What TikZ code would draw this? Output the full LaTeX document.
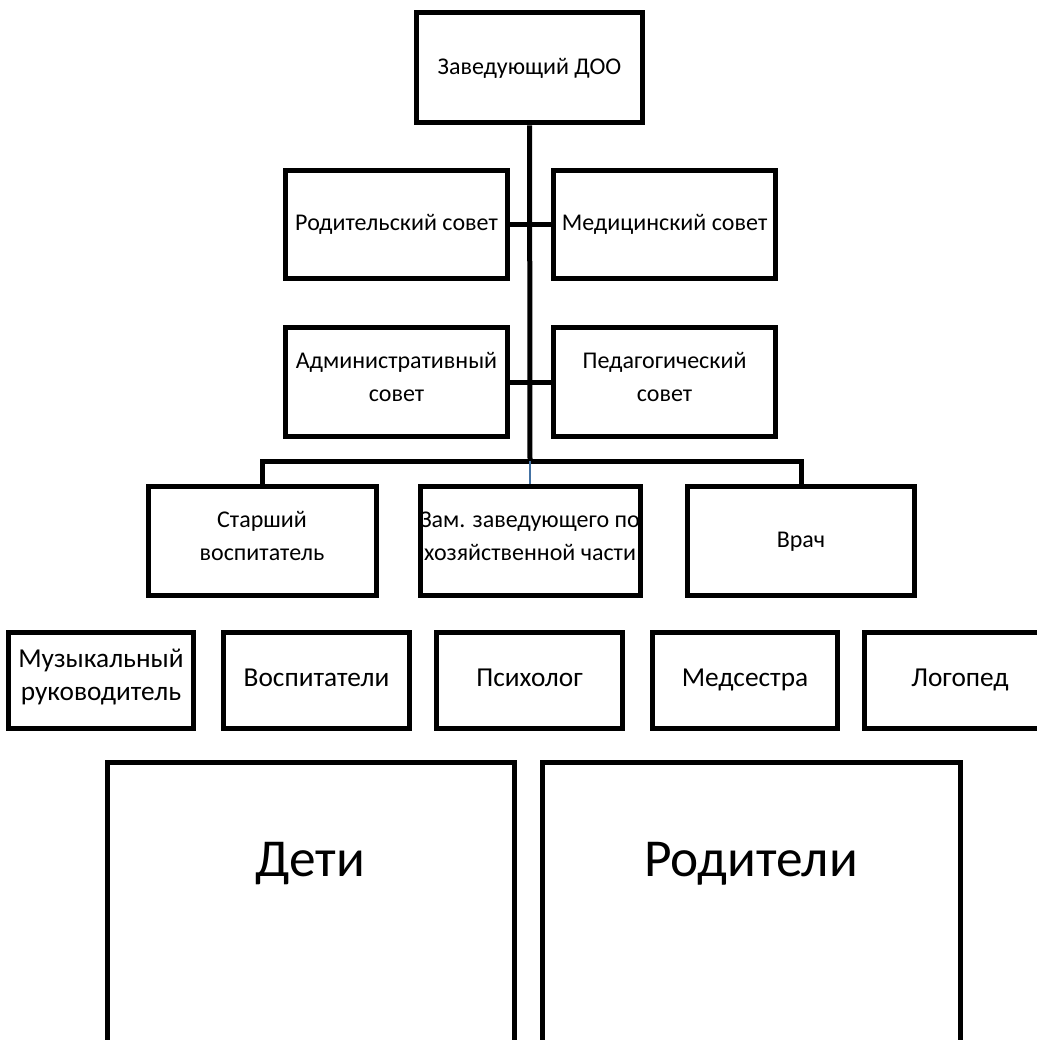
\documentclass[tikz,border=0pt]{standalone}
\usepackage{fontspec}
\setmainfont{Carlito}
\usetikzlibrary{positioning}

\begin{document}
\begin{tikzpicture}
		[x=0.75pt, y=-0.75pt, line width=3.75pt,
		post/.style = {draw, rectangle, align=center, inner sep=2pt,
			font=\fontsize{18}{25}\selectfont,
			execute at begin node=\strut, execute at end node=\strut},
		staff/.style = {post, minimum width=139pt, minimum height=72pt,
			font=\fontsize{20.5}{25}\selectfont},
		big/.style = {font=\fontsize{40}{48}\selectfont}]
	\clip (0,0) rectangle (1037,1040);
	\node[post, minimum width=170pt, minimum height=83pt] (zav) at (529.5,67.5) {Заведующий ДОО};
	\node[post, minimum width=167pt, minimum height=81pt] (rod) at (396.5,224) {Родительский совет};
	\node[post, minimum width=167pt, minimum height=81pt] (med) at (664.5,224) {Медицинский совет};
	\node[post, minimum width=167pt, minimum height=82pt] (adm) at (396.5,382) {Административный\\совет};
	\node[post, minimum width=167pt, minimum height=82pt] (ped) at (664.5,382) {Педагогический\\совет};
	\node[post, minimum width=171pt, minimum height=82pt] (star) at (262,541) {Старший\\воспитатель};
	\node[post, minimum width=165pt, minimum height=82pt, inner sep=0pt] (zam) at (530,541) {Зам. заведующего по\\хозяйственной части};
	\node[post, minimum width=170pt, minimum height=82pt] (vrach) at (801,541) {Врач};
	\node[staff, inner sep=0pt] (muz) at (101,680) {Музыкальный\\руководитель};
	\node[staff] (vosp) at (316.5,680) {Воспитатели};
	\node[staff] (psih) at (529.5,680) {Психолог};
	\node[staff] (meds) at (745,680) {Медсестра};
	\node[staff, minimum width=143pt] (logo) at (960,680) {Логопед};
	% open boxes at the bottom
	\draw (107,762) rectangle (514,1100);
	\draw (542,762) rectangle (960,1100);
	\node[big] (deti) at (310.5,864) {Дети};
	\node[big] (rodit) at (751,864) {Родители};
	% connectors
	\coordinate (top) at (530,461);
	\draw (zav) -- (top);
	\draw (rod) -- (med);
	\draw (adm) -- (ped);
	\draw (star.north) |- (top) -| (vrach.north);
	\draw[line width=1.5pt, color={rgb,255:red,68;green,114;blue,163}] (top) -- (zam.north);
\end{tikzpicture}
\end{document}
